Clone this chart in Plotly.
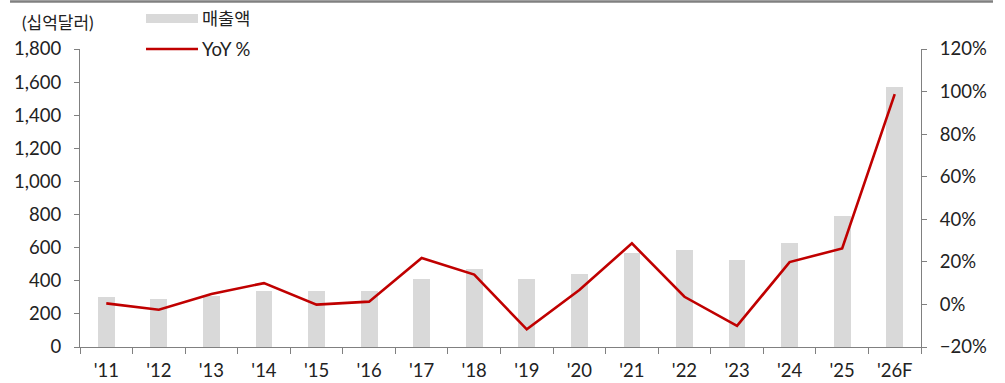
import plotly.graph_objects as go

years = ["'11", "'12", "'13", "'14", "'15", "'16", "'17", "'18", "'19", "'20",
         "'21", "'22", "'23", "'24", "'25", "'26F"]
sales = [300, 292, 310, 338, 338, 340, 413, 471, 413, 441, 568, 586, 525, 628, 793, 1570]
yoy = [0.5, -2.5, 4.9, 10.0, -0.1, 1.3, 21.8, 14.0, -11.7, 6.8, 28.7, 3.6, -10.1, 19.9, 26.3, 98.8]

FONT = "Lato, 'Noto Sans CJK KR', sans-serif"
TXT = "#222222"
AX = "#808080"
FS = 18.5

fig = go.Figure()
fig.add_trace(go.Bar(x=years, y=sales, marker=dict(color="#d9d9d9", line=dict(width=0)),
                     width=0.32, name="매출액", showlegend=False))
fig.add_trace(go.Scatter(x=years, y=yoy, yaxis="y2", mode="lines",
                         line=dict(color="#c00000", width=2.6), name="YoY %", showlegend=False))

fig.update_layout(
    width=1005, height=383,
    margin=dict(l=80, r=84, t=49, b=36, autoexpand=False),
    paper_bgcolor="white", plot_bgcolor="white",
    font=dict(family=FONT, size=FS, color=TXT),
    xaxis=dict(type="category", range=[-0.5, 15.5], showline=True, linecolor=AX, linewidth=1.2,
               ticks="outside", tickson="boundaries", ticklen=6, tickcolor=AX,
               ticklabelstandoff=7, automargin=False,
               showgrid=False, zeroline=False, tickfont=dict(size=FS, color=TXT)),
    yaxis=dict(range=[0, 1800], dtick=200, tickformat=",", showline=True, linecolor=AX,
               linewidth=1.2, ticks="outside", ticklen=5, tickcolor=AX, showgrid=False,
               ticklabelstandoff=9, automargin=False,
               zeroline=False, tickfont=dict(size=FS, color=TXT)),
    yaxis2=dict(range=[-20, 120], dtick=20, ticksuffix="%", overlaying="y", side="right",
                showline=True, linecolor=AX, linewidth=1.2, ticks="outside", ticklen=5,
                ticklabelstandoff=9, automargin=False,
                tickcolor=AX, showgrid=False, zeroline=False, tickfont=dict(size=FS, color=TXT)),
    bargap=0,
)

# top border line
fig.add_shape(type="line", xref="paper", yref="paper", x0=-0.0832, x1=1.0856, y0=1.1594, y1=1.1594,
              line=dict(color="#808080", width=2.5))
# legend
fig.add_shape(type="rect", xref="paper", yref="paper", x0=0.0785, x1=0.1403, y0=1.0872, y1=1.1174,
              fillcolor="#d9d9d9", line=dict(width=0))
fig.add_shape(type="line", xref="paper", yref="paper", x0=0.0785, x1=0.1403, y0=1.0, y1=1.0,
              line=dict(color="#c00000", width=2.6))
fig.add_annotation(xref="paper", yref="paper", x=0.1427, y=1.104, text="매출액", showarrow=False,
                   xanchor="left", yanchor="middle", font=dict(size=17.5, color=TXT))
fig.add_annotation(xref="paper", yref="paper", x=0.1427, y=1.0, text="YoY %", showarrow=False,
                   xanchor="left", yanchor="middle", font=dict(size=FS, color=TXT))
fig.add_annotation(xref="paper", yref="paper", x=-0.071, y=1.0906, text="(십억달러)", showarrow=False,
                   xanchor="left", yanchor="middle", font=dict(size=17, color=TXT))

fig.write_html("out.html")
